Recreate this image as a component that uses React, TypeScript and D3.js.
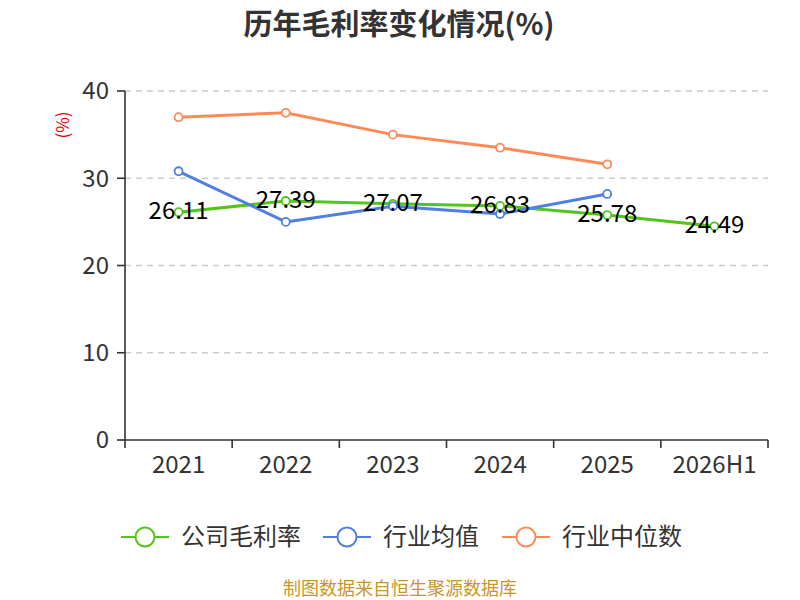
import React from 'react';
import * as d3 from 'd3';

const categories = ['2021', '2022', '2023', '2024', '2025', '2026H1'];
const companyMargin = [26.11, 27.39, 27.07, 26.83, 25.78, 24.49];
const industryAvg = [30.8, 25.0, 26.8, 25.9, 28.2];
const industryMedian = [37.0, 37.5, 35.0, 33.5, 31.6];
const yTicks = [0, 10, 20, 30, 40];

const seriesList = [
  { name: '公司毛利率', values: companyMargin, color: '#52c41a', labels: true },
  { name: '行业均值', values: industryAvg, color: '#4f7fe2', labels: false },
  { name: '行业中位数', values: industryMedian, color: '#ff8a57', labels: false },
];

const FONT = '"Noto Sans CJK SC", "Noto Sans", sans-serif';

const App: React.FC = () => {
  const width = 800;
  const height = 600;
  const margin = { top: 91, right: 32, bottom: 160, left: 125 };

  const x = d3
    .scaleBand<string>()
    .domain(categories)
    .range([margin.left, width - margin.right]);

  const y = d3
    .scaleLinear()
    .domain([0, 40])
    .range([height - margin.bottom, margin.top]);

  const cx = (c: string) => (x(c) ?? 0) + x.bandwidth() / 2;

  const line = d3
    .line<number>()
    .x((_, i) => cx(categories[i]))
    .y((d) => y(d));

  const bounds = [...categories.map((c) => x(c) ?? 0), width - margin.right];
  const legendX = [121, 323, 502];

  return (
    <svg
      width={width}
      height={height}
      style={{ position: 'absolute', left: 0, top: 0, background: '#fff' }}
      fontFamily={FONT}
    >
      <text x={399} y={35} textAnchor="middle" fontSize={29} fontWeight="bold" fill="#333">
        历年毛利率变化情况(%)
      </text>

      <text
        transform={`translate(69,${125}) rotate(-90)`}
        textAnchor="middle"
        fontSize={17}
        fill="#e00"
      >
        (%)
      </text>

      {/* grid */}
      {yTicks
        .filter((t) => t > 0)
        .map((t) => (
          <line
            key={t}
            x1={margin.left}
            x2={width - margin.right}
            y1={y(t)}
            y2={y(t)}
            stroke="#ccc"
            strokeDasharray="6,5"
            strokeWidth={1.3}
          />
        ))}

      {/* y axis */}
      <line x1={margin.left} x2={margin.left} y1={y(0)} y2={y(40)} stroke="#333" strokeWidth={1.6} />
      {yTicks.map((t) => (
        <g key={t}>
          <line x1={margin.left - 8} x2={margin.left} y1={y(t)} y2={y(t)} stroke="#333" strokeWidth={1.6} />
          <text x={margin.left - 16} y={y(t)} dy="0.35em" textAnchor="end" fontSize={24} fill="#333">
            {t}
          </text>
        </g>
      ))}

      {/* x axis */}
      <line x1={margin.left} x2={width - margin.right} y1={y(0)} y2={y(0)} stroke="#333" strokeWidth={1.6} />
      {bounds.map((b, i) => (
        <line key={i} x1={b} x2={b} y1={y(0)} y2={y(0) + 8} stroke="#333" strokeWidth={1.6} />
      ))}
      {categories.map((c) => (
        <text key={c} x={cx(c)} y={y(0) + 33} textAnchor="middle" fontSize={24} fill="#333">
          {c}
        </text>
      ))}

      {/* series */}
      {seriesList.map((s) => (
        <g key={s.name}>
          <path d={line(s.values) ?? ''} fill="none" stroke={s.color} strokeWidth={3} />
          {s.values.map((v, i) => (
            <circle
              key={i}
              cx={cx(categories[i])}
              cy={y(v)}
              r={4}
              fill="#fff"
              stroke={s.color}
              strokeWidth={1.8}
            />
          ))}
        </g>
      ))}
      {seriesList
        .filter((s) => s.labels)
        .map((s) =>
          s.values.map((v, i) => (
            <text
              key={`${s.name}-${i}`}
              x={cx(categories[i])}
              y={y(v) + 7}
              textAnchor="middle"
              fontSize={24}
              fill="#000"
            >
              {v.toFixed(2)}
            </text>
          ))
        )}

      {/* legend */}
      {seriesList.map((s, i) => (
        <g key={s.name} transform={`translate(${legendX[i]},537)`}>
          <line x1={0} x2={48} y1={0} y2={0} stroke={s.color} strokeWidth={2} />
          <circle cx={24} cy={0} r={9.5} fill="#fff" stroke={s.color} strokeWidth={2} />
          <text x={60} y={0} dy="0.35em" fontSize={24} fill="#333">
            {s.name}
          </text>
        </g>
      ))}

      <text x={400} y={595} textAnchor="middle" fontSize={18} fill="#c8952a">
        制图数据来自恒生聚源数据库
      </text>
    </svg>
  );
};

export default App;
